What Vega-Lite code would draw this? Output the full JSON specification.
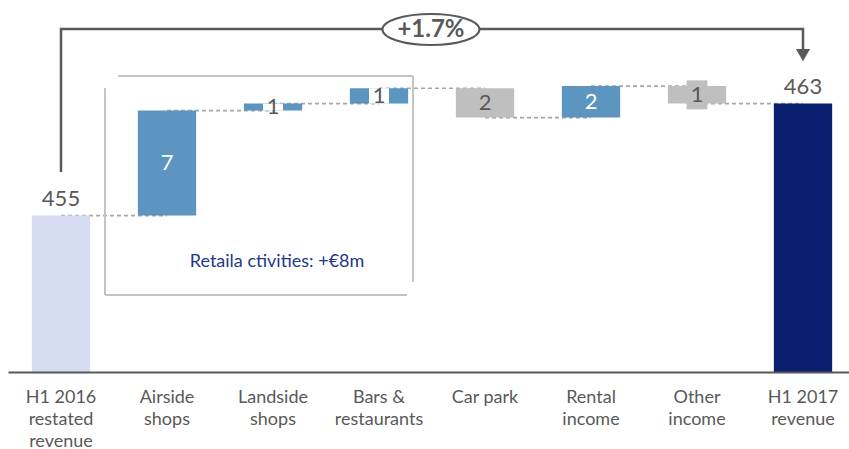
{
  "$schema": "https://vega.github.io/schema/vega-lite/v6.json",
  "width": 848,
  "height": 372,
  "padding": {"left": 8, "top": 0, "right": 0, "bottom": 0},
  "config": {"view": {"stroke": null}, "font": "Lato"},
  "datasets": {
    "steps": [
      {"cat": "H1 2016|restated|revenue", "start": 0, "end": 455, "kind": "base", "label": "455"},
      {"cat": "Airside|shops", "start": 455, "end": 462.5, "kind": "up", "label": "7"},
      {"cat": "Landside|shops", "start": 462.5, "end": 463.0, "kind": "up", "label": "1"},
      {"cat": "Bars &|restaurants", "start": 463.0, "end": 464.1, "kind": "up", "label": "1"},
      {"cat": "Car park", "start": 464.1, "end": 462.0, "kind": "down", "label": "2"},
      {"cat": "Rental|income", "start": 462.0, "end": 464.25, "kind": "up", "label": "2"},
      {"cat": "Other|income", "start": 464.25, "end": 463.0, "kind": "down", "label": "1"},
      {"cat": "H1 2017|revenue", "start": 0, "end": 463, "kind": "total", "label": "463"}
    ],
    "links": [
      {"from": "H1 2016|restated|revenue", "to": "Airside|shops", "level": 455},
      {"from": "Airside|shops", "to": "Landside|shops", "level": 462.5},
      {"from": "Landside|shops", "to": "Bars &|restaurants", "level": 463.0},
      {"from": "Bars &|restaurants", "to": "Car park", "level": 464.1},
      {"from": "Car park", "to": "Rental|income", "level": 462.0},
      {"from": "Rental|income", "to": "Other|income", "level": 464.25},
      {"from": "Other|income", "to": "H1 2017|revenue", "level": 463.0}
    ],
    "box": [
      {"x1": 1.038, "x2": 3.821, "y1": 464.97, "y2": 464.97},
      {"x1": 3.821, "x2": 3.821, "y1": 464.97, "y2": 450.26},
      {"x1": 0.915, "x2": 0.915, "y1": 464.11, "y2": 449.33},
      {"x1": 0.915, "x2": 3.764, "y1": 449.33, "y2": 449.33}
    ],
    "bracket": [
      {"bx": 0.5, "by": 458.11, "o": 1},
      {"bx": 0.5, "by": 468.33, "o": 2},
      {"bx": 7.5, "by": 468.33, "o": 3},
      {"bx": 7.5, "by": 466.69, "o": 4}
    ],
    "notes": [
      {"nx": 3.99, "ny": 468.29, "text": "+1.7%", "kind": "growth"},
      {"nx": 7.5, "ny": 466.47, "text": "", "kind": "arrow"},
      {"nx": 2.538, "ny": 451.69, "text": "Retaila ctivities: +€8m", "kind": "retail"}
    ]
  },
  "layer": [
    {
      "layer": [
        {
          "data": {"name": "links"},
          "mark": {"type": "rule", "color": "#A6A6A6", "strokeWidth": 1.6, "strokeDash": [4, 3]},
          "encoding": {
            "x": {"field": "from", "type": "nominal", "title": null},
            "x2": {"field": "to"},
            "y": {"field": "level", "type": "quantitative", "axis": null}
          }
        },
        {
          "data": {"name": "steps"},
          "mark": {"type": "bar", "clip": true},
          "encoding": {
            "x": {
              "field": "cat", "type": "nominal", "title": null,
              "scale": {
                "domain": ["H1 2016|restated|revenue", "Airside|shops", "Landside|shops", "Bars &|restaurants", "Car park", "Rental|income", "Other|income", "H1 2017|revenue"],
                "paddingInner": 0.45, "paddingOuter": 0.225
              },
              "axis": {
                "labelExpr": "split(datum.label, '|')",
                "labelAngle": 0,
                "labelAlign": "center",
                "labelFontSize": 18,
                "labelColor": "#595959",
                "labelLineHeight": 22,
                "labelPadding": 16,
                "labelBaseline": "top",
                "ticks": false,
                "domainColor": "#595959",
                "domainWidth": 2,
                "zindex": 1
              }
            },
            "y": {
              "field": "start", "type": "quantitative", "axis": null,
              "scale": {"domain": [443.83, 470.4], "nice": false, "zero": false}
            },
            "y2": {"field": "end"},
            "color": {
              "field": "kind", "type": "nominal", "legend": null,
              "scale": {"domain": ["base", "up", "down", "total"], "range": ["#D5DBF0", "#5B95C0", "#BFBFBF", "#0B1F70"]}
            }
          }
        },
        {
          "data": {"name": "steps"},
          "transform": [{"filter": "datum.cat == 'Landside|shops' || datum.cat == 'Bars &|restaurants'"}],
          "mark": {"type": "bar", "size": 20, "color": "white"},
          "encoding": {
            "x": {"field": "cat", "type": "nominal", "title": null},
            "y": {"field": "start", "type": "quantitative", "axis": null},
            "y2": {"field": "end"}
          }
        },
        {
          "data": {"name": "steps"},
          "transform": [
            {"filter": "datum.cat == 'Other|income'"},
            {"calculate": "(datum.start + datum.end) / 2", "as": "mid"}
          ],
          "mark": {"type": "point", "filled": true, "opacity": 1, "color": "#BFBFBF", "size": 841, "shape": "M-0.72,-1L0.72,-1L0.72,1L-0.72,1Z"},
          "encoding": {
            "x": {"field": "cat", "type": "nominal", "title": null},
            "y": {"field": "mid", "type": "quantitative", "axis": null}
          }
        },
        {
          "data": {"name": "steps"},
          "transform": [
            {"filter": "datum.kind == 'up' || datum.kind == 'down'"},
            {"calculate": "(datum.start + datum.end) / 2", "as": "mid"}
          ],
          "mark": {"type": "text", "fontSize": 22, "baseline": "middle", "align": "center"},
          "encoding": {
            "x": {"field": "cat", "type": "nominal", "title": null},
            "y": {"field": "mid", "type": "quantitative", "axis": null},
            "text": {"field": "label"},
            "color": {
              "condition": {"test": "datum.cat == 'Airside|shops' || datum.cat == 'Rental|income'", "value": "white"},
              "value": "#595959"
            }
          }
        },
        {
          "data": {"name": "steps"},
          "transform": [{"filter": "datum.kind == 'base' || datum.kind == 'total'"}],
          "mark": {"type": "text", "fontSize": 22, "baseline": "alphabetic", "align": "center", "dy": -10, "color": "#595959"},
          "encoding": {
            "x": {"field": "cat", "type": "nominal", "title": null},
            "y": {"field": "end", "type": "quantitative", "axis": null},
            "text": {"field": "label"}
          }
        }
      ]
    },
    {
      "layer": [
        {
          "data": {"name": "box"},
          "mark": {"type": "rule", "color": "#C4C4C4", "strokeWidth": 2},
          "encoding": {
            "x": {"field": "x1", "type": "quantitative", "axis": null, "scale": {"domain": [0, 8], "nice": false, "zero": false}},
            "x2": {"field": "x2"},
            "y": {"field": "y1", "type": "quantitative", "axis": null},
            "y2": {"field": "y2"}
          }
        },
        {
          "data": {"name": "bracket"},
          "mark": {"type": "line", "color": "#595959", "strokeWidth": 2.5},
          "encoding": {
            "x": {"field": "bx", "type": "quantitative", "axis": null},
            "y": {"field": "by", "type": "quantitative", "axis": null},
            "order": {"field": "o"}
          }
        },
        {
          "data": {"name": "notes"},
          "transform": [{"filter": "datum.kind == 'growth'"}],
          "mark": {"type": "point", "filled": false, "fill": "white", "fillOpacity": 1, "opacity": 1, "stroke": "#595959", "strokeWidth": 2, "size": 9409, "shape": "M-1,0C-1,-0.177 -0.552,-0.32 0,-0.32C0.552,-0.32 1,-0.177 1,0C1,0.177 0.552,0.32 0,0.32C-0.552,0.32 -1,0.177 -1,0Z"},
          "encoding": {
            "x": {"field": "nx", "type": "quantitative", "axis": null},
            "y": {"field": "ny", "type": "quantitative", "axis": null}
          }
        },
        {
          "data": {"name": "notes"},
          "transform": [{"filter": "datum.kind == 'growth'"}],
          "mark": {"type": "text", "fontSize": 24, "fontWeight": "bold", "color": "#595959", "baseline": "middle", "align": "center"},
          "encoding": {
            "x": {"field": "nx", "type": "quantitative", "axis": null},
            "y": {"field": "ny", "type": "quantitative", "axis": null},
            "text": {"field": "text"}
          }
        },
        {
          "data": {"name": "notes"},
          "transform": [{"filter": "datum.kind == 'arrow'"}],
          "mark": {"type": "point", "filled": true, "opacity": 1, "color": "#595959", "size": 200, "shape": "triangle-down"},
          "encoding": {
            "x": {"field": "nx", "type": "quantitative", "axis": null},
            "y": {"field": "ny", "type": "quantitative", "axis": null}
          }
        },
        {
          "data": {"name": "notes"},
          "transform": [{"filter": "datum.kind == 'retail'"}],
          "mark": {"type": "text", "fontSize": 18, "color": "#22378C", "baseline": "middle", "align": "center"},
          "encoding": {
            "x": {"field": "nx", "type": "quantitative", "axis": null},
            "y": {"field": "ny", "type": "quantitative", "axis": null},
            "text": {"field": "text"}
          }
        }
      ]
    }
  ],
  "resolve": {"scale": {"x": "independent"}}
}
